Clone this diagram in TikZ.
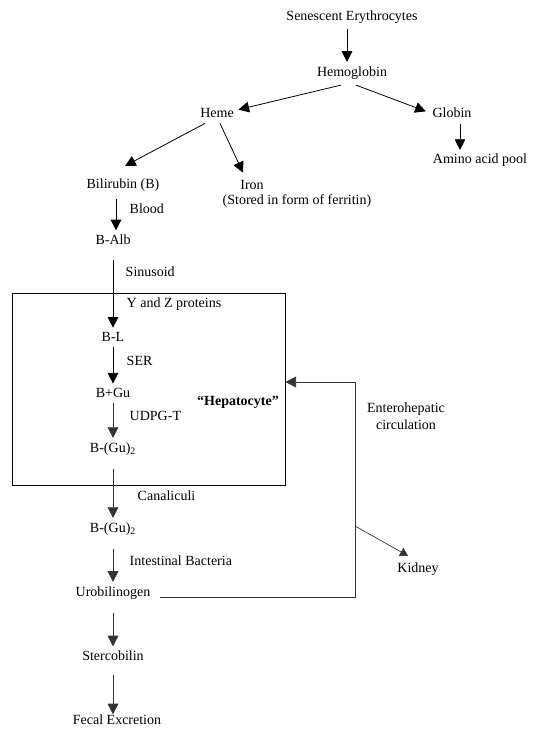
\documentclass[tikz,border=0pt]{standalone}
\usepackage{fontspec}
\setmainfont{Liberation Serif}
\usetikzlibrary{arrows.meta}
\definecolor{darkline}{gray}{0.2}

\begin{document}
\begin{tikzpicture}[x=0.75pt,y=-0.75pt,line width=0.6pt,
	every node/.style={inner sep=1pt,font=\fontsize{10.5}{12.5}\selectfont},
	arr/.style={-{Triangle[length=8pt,width=8pt]}},
	arrsmall/.style={-{Triangle[length=6pt,width=7pt]},line width=0.5pt},
	lbl/.style={anchor=west},
	lower/.style={draw=darkline,text=darkline}]
\useasboundingbox (0,0) rectangle (536,736);
\node[draw,inner sep=0pt,minimum width=204.75pt,minimum height=144pt] (cell) at (148.5,389) {};
\node (sen) at (352,17) {Senescent Erythrocytes};
\node (hgb) at (352,73) {Hemoglobin};
\node (heme) at (217,113) {Heme};
\node (glob) at (452,113) {Globin};
\node (amino) at (480,160) {Amino acid pool};
\node (bili) at (123,185) {Bilirubin (B)};
\node (iron) at (252,185) {Iron};
\node (ferr) at (297,201) {(Stored in form of ferritin)};
\node (balb) at (113,240) {B-Alb};
\node (bl) at (113,337) {B-L};
\node (bgu) at (113,393) {B+Gu};
\node (bguone) at (113,449) {B-(Gu)\textsubscript{2}};
\node (bgutwo) at (113,529) {B-(Gu)\textsubscript{2}};
\node (urob) at (113,593) {Urobilinogen};
\node (sterc) at (113,656) {Stercobilin};
\node (fecal) at (117,720) {Fecal Excretion};
\node[font=\fontsize{10.5}{12.5}\selectfont\bfseries] (hep) at (238,402) {``Hepatocyte''};
\node[align=center] (entero) at (406,416) {Enterohepatic\\circulation};
\node (kid) at (418,569) {Kidney};
\node[lbl] (blood) at (128,209) {Blood};
\node[lbl] (sinus) at (124,272) {Sinusoid};
\node[lbl] (yz) at (125,304) {Y and Z proteins};
\node[lbl] (ser) at (125,361) {SER};
\node[lbl] (udpg) at (128,416) {UDPG-T};
\node[lbl] (canal) at (136,496) {Canaliculi};
\node[lbl] (bact) at (128,561) {Intestinal Bacteria};
\coordinate (base) at (355,597);
\coordinate (turn) at (355,382);
\coordinate (split) at (355,526);
\draw[arr] ([shift={(-5,4)}]sen.south) -- ([shift={(-5,-3)}]hgb.north);
\draw[arr] ([shift={(-11,4)}]hgb.south) -- ([shift={(3,3)}]heme.north east);
\draw[arr] ([shift={(4,4)}]hgb.south) -- ([shift={(-5,5)}]glob.north west);
\draw[arr] ([shift={(8,4)}]glob.south) -- ([shift={(-20,-2)}]amino.north);
\draw[arr] ([shift={(-12,4)}]heme.south) -- ([shift={(2,-11)}]bili.north);
\draw[arr] ([shift={(3,4)}]heme.south) -- ([shift={(-9,-6)}]iron.north);
\draw[arr] ([shift={(-7,6)}]bili.south) -- ([shift={(3,-3)}]balb.north);
\draw[arr] ([shift={(0,13)}]balb.south) -- ([shift={(0,-3)}]bl.north);
\draw[arr] ([shift={(0,4)}]bl.south) -- ([shift={(0,-3)}]bgu.north);
\draw[arr,lower] ([shift={(0,4)}]bgu.south) -- ([shift={(0,-3)}]bguone.north);
\draw[arr,lower] ([shift={(0,12)}]bguone.south) -- ([shift={(0,-3)}]bgutwo.north);
\draw[arr,lower] ([shift={(0,12)}]bgutwo.south) -- ([shift={(0,-3)}]urob.north);
\draw[arr,lower] ([shift={(0,12)}]urob.south) -- ([shift={(0,-3)}]sterc.north);
\draw[arr,lower] ([shift={(0,12)}]sterc.south) -- ([shift={(0,1)}]sterc.south |- fecal.north);
\draw[arr,lower] ([shift={(8,4)}]urob.east) -- (base) -- (turn) -- (turn -| cell.east);
\draw[arrsmall,lower] (split) -- ([shift={(-10,-5)}]kid.north);
\end{tikzpicture}
\end{document}
